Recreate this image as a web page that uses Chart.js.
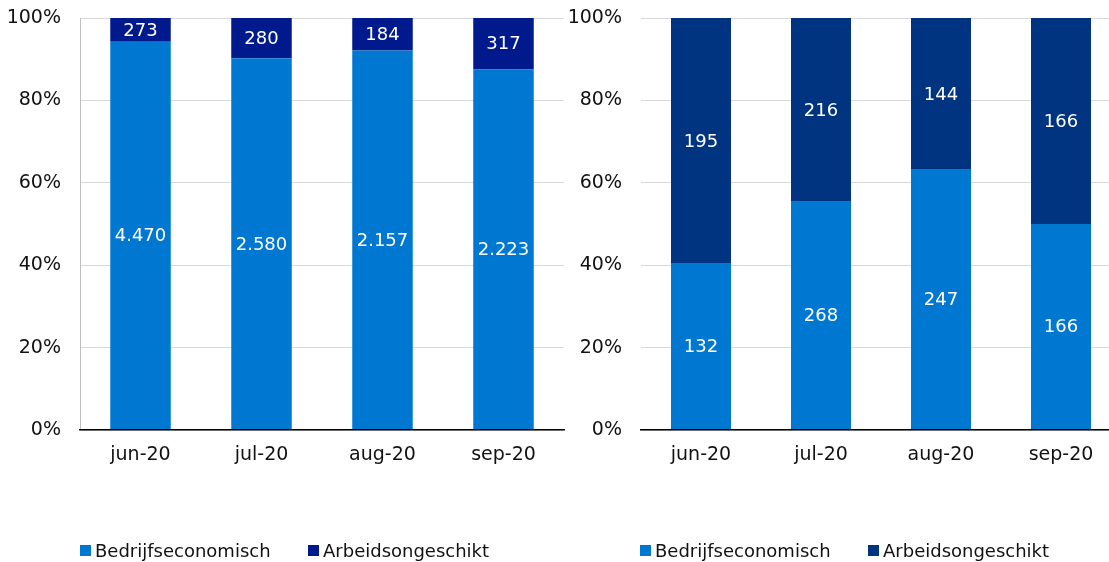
<!DOCTYPE html>
<html>
<head>
<meta charset="utf-8">
<script src="https://cdn.jsdelivr.net/npm/chart.js@4/dist/chart.umd.min.js"></script>
<style>
  html,body{margin:0;padding:0;background:#fff;}
  body{width:1109px;height:562px;overflow:hidden;position:relative;font-family:"DejaVu Sans",sans-serif;}
  .panel{position:absolute;top:0;height:562px;overflow:hidden;}
  .legend{position:absolute;top:540px;height:22px;font-size:18px;color:#111;white-space:nowrap;}
  .legend .item{position:absolute;top:0;line-height:22px;}
  .legend .box{position:absolute;top:5px;width:11px;height:11px;}
</style>
</head>
<body>
<div class="panel" style="left:0;width:566px;">
  <canvas id="left" width="566" height="562"></canvas>
</div>
<div class="panel" style="left:561px;width:548px;">
  <canvas id="right" width="560" height="562"></canvas>
</div>
<div id="legendLeft" class="legend" style="left:80px;width:480px;"></div>
<div id="legendRight" class="legend" style="left:640px;width:469px;"></div>

<script>
// ---- data ----
const categories = ["jun-20", "jul-20", "aug-20", "sep-20"];
const seriesNames = ["Bedrijfseconomisch", "Arbeidsongeschikt"];
const leftBedrijfseconomisch = [4470, 2580, 2157, 2223];
const leftArbeidsongeschikt = [273, 280, 184, 317];
const rightBedrijfseconomisch = [132, 268, 247, 166];
const rightArbeidsongeschikt = [195, 216, 144, 166];
const yTicks = [0, 20, 40, 60, 80, 100];

// ---- styles ----
const lightBlue = "#0078D2";
const leftNavy = "#00198C";
const rightNavy = "#003380";

Chart.defaults.font.family = '"DejaVu Sans", sans-serif';
Chart.defaults.font.size = 19;
Chart.defaults.color = "#111";

function fmt(n){
  return String(n).replace(/\B(?=(\d{3})+(?!\d))/g, ".");
}
function shares(a, b){
  return a.map((v, i) => v / (v + b[i]) * 100);
}

const segLabels = {
  id: "segLabels",
  afterDatasetsDraw(chart){
    const ctx = chart.ctx;
    ctx.save();
    ctx.font = '18px "DejaVu Sans"';
    ctx.fillStyle = "#fff";
    ctx.textAlign = "center";
    ctx.textBaseline = "middle";
    chart.data.datasets.forEach((ds, i) => {
      const meta = chart.getDatasetMeta(i);
      meta.data.forEach((bar, j) => {
        const y = (bar.y + bar.base) / 2;
        ctx.fillText(fmt(ds.raw[j]), bar.x, y + 1);
      });
    });
    ctx.restore();
  }
};

function makeChart(id, a, b, navy, showYBorder, padRight){
  return new Chart(document.getElementById(id), {
    type: "bar",
    data: {
      labels: categories,
      datasets: [
        { label: seriesNames[0], raw: a, data: shares(a, b), backgroundColor: lightBlue,
          barPercentage: 0.5, categoryPercentage: 1.0, borderWidth: 0 },
        { label: seriesNames[1], raw: b, data: shares(b, a), backgroundColor: navy,
          barPercentage: 0.5, categoryPercentage: 1.0, borderWidth: 0 }
      ]
    },
    options: {
      responsive: false,
      devicePixelRatio: 1,
      animation: false,
      layout: { padding: { top: 18, right: padRight, left: 0, bottom: 0 } },
      plugins: { legend: { display: false }, tooltip: { enabled: false } },
      scales: {
        x: {
          stacked: true,
          grid: { display: false, drawTicks: false },
          border: { display: true, color: "#000", width: 1.5, z: 1 },
          ticks: { padding: 14, color: "#111", font: { size: 19 } },
          afterFit(s){ s.height = 132; s.paddingLeft = 0; s.paddingRight = 0; }
        },
        y: {
          stacked: true,
          min: 0, max: 100,
          afterBuildTicks(s){ s.ticks = yTicks.map(v => ({ value: v })); },
          grid: { color: "#D9D9D9", drawTicks: false, lineWidth: 1 },
          border: { display: showYBorder, color: "#BFBFBF" },
          ticks: { padding: 19, color: "#111", font: { size: 19 }, callback: v => v + "%" },
          afterFit(s){ s.width = 80; s.paddingTop = 0; s.paddingBottom = 0; }
        }
      }
    },
    plugins: [segLabels]
  });
}

makeChart("left", leftBedrijfseconomisch, leftArbeidsongeschikt, leftNavy, true, 2);
makeChart("right", rightBedrijfseconomisch, rightArbeidsongeschikt, rightNavy, false, 0);

function buildLegend(id, navy){
  const el = document.getElementById(id);
  const cols = [lightBlue, navy];
  const offs = [0, 228];
  seriesNames.forEach((name, i) => {
    const box = document.createElement("span");
    box.className = "box";
    box.style.left = offs[i] + "px";
    box.style.background = cols[i];
    el.appendChild(box);
    const t = document.createElement("span");
    t.className = "item";
    t.style.left = (offs[i] + 15) + "px";
    t.textContent = name;
    el.appendChild(t);
  });
}
buildLegend("legendLeft", leftNavy);
buildLegend("legendRight", rightNavy);
</script>
</body>
</html>
